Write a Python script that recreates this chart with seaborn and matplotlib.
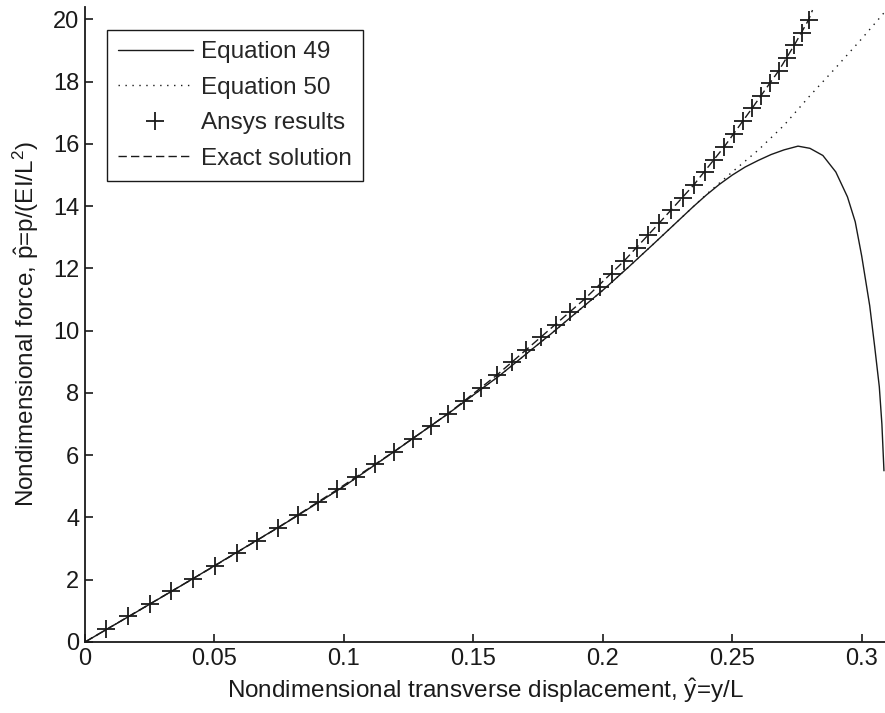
import matplotlib
matplotlib.use('Agg')
import matplotlib.pyplot as plt
import seaborn as sns
from matplotlib.lines import Line2D

# Ansys results (markers)
ansys_x = [0.0080, 0.0165, 0.0250, 0.0332, 0.0418, 0.0502, 0.0586, 0.0665, 0.0745, 0.0823,
           0.0899, 0.0975, 0.1048, 0.1122, 0.1194, 0.1266, 0.1336, 0.1403, 0.1465, 0.1530,
           0.1590, 0.1650, 0.1705, 0.1760, 0.1818, 0.1873, 0.1930, 0.1990, 0.2035, 0.2082,
           0.2131, 0.2173, 0.2218, 0.2263, 0.2310, 0.2352, 0.2393, 0.2428, 0.2469, 0.2505,
           0.2542, 0.2576, 0.2612, 0.2647, 0.2680, 0.2710, 0.2740, 0.2768, 0.2795]
ansys_y = [0.41, 0.82, 1.22, 1.63, 2.04, 2.45, 2.86, 3.26, 3.67, 4.08,
           4.49, 4.90, 5.30, 5.71, 6.12, 6.53, 6.94, 7.34, 7.75, 8.16,
           8.57, 8.98, 9.38, 9.79, 10.20, 10.61, 11.02, 11.42, 11.83, 12.24,
           12.65, 13.06, 13.46, 13.87, 14.28, 14.69, 15.10, 15.50, 15.91, 16.32,
           16.73, 17.14, 17.54, 17.95, 18.36, 18.77, 19.18, 19.58, 19.99]

# exact solution (dashed)
exact_x = [0.0, 0.0250, 0.0502, 0.0745, 0.0975, 0.1194, 0.1403, 0.1590, 0.1760, 0.1930,
           0.2082, 0.2218, 0.2352, 0.2469, 0.2576, 0.2680, 0.2740, 0.2795, 0.2810]
exact_y = [0.0, 1.22, 2.45, 3.67, 4.90, 6.12, 7.34, 8.57, 9.79, 11.02,
           12.24, 13.46, 14.69, 15.91, 17.14, 18.36, 19.18, 19.99, 20.30]

# Equation 49 (solid)
eq49_x = [0.0, 0.02, 0.04, 0.06, 0.08, 0.10, 0.12, 0.14, 0.16, 0.18, 0.20, 0.21, 0.22, 0.23,
          0.235, 0.24, 0.245, 0.25, 0.255, 0.26, 0.265, 0.27, 0.2754, 0.28, 0.285, 0.29,
          0.2945, 0.2975, 0.300, 0.3031, 0.3050, 0.3068, 0.3078, 0.3086]
eq49_y = [0.0, 0.97, 1.95, 2.95, 3.95, 5.00, 6.15, 7.32, 8.55, 9.90, 11.30, 12.05, 12.82, 13.60,
          13.99, 14.36, 14.70, 15.00, 15.26, 15.47, 15.66, 15.81, 15.93, 15.86, 15.63, 15.10,
          14.30, 13.50, 12.40, 10.80, 9.50, 8.20, 7.00, 5.50]

# Equation 50 (dotted)
eq50_x = [0.0, 0.02, 0.04, 0.06, 0.08, 0.10, 0.12, 0.14, 0.16, 0.18, 0.20, 0.21, 0.22, 0.23,
          0.24, 0.25, 0.26, 0.27, 0.28, 0.29, 0.30, 0.309]
eq50_y = [0.0, 0.97, 1.95, 2.95, 3.95, 5.00, 6.15, 7.32, 8.55, 9.90, 11.30, 12.05, 12.82, 13.60,
          14.38, 15.10, 15.80, 16.60, 17.55, 18.45, 19.38, 20.25]

sns.set_theme(style='white')
plt.rcParams['font.family'] = ['Liberation Sans', 'DejaVu Sans']
plt.rcParams['mathtext.fontset'] = 'custom'
plt.rcParams['mathtext.rm'] = 'Liberation Sans'
plt.rcParams['mathtext.default'] = 'regular'

fig = plt.figure(figsize=(8.85, 7.13), dpi=100)
ax = fig.add_axes([85 / 885, 71 / 713, 800 / 885, 635 / 713])

sns.lineplot(x=eq49_x, y=eq49_y, ax=ax, color='k', linewidth=1.0, sort=False)
sns.lineplot(x=eq50_x, y=eq50_y, ax=ax, color='k', linewidth=1.0, linestyle=(0, (1, 4)), sort=False)
sns.lineplot(x=exact_x, y=exact_y, ax=ax, color='k', linewidth=1.0, linestyle=(0, (6, 3)), sort=False)
sns.scatterplot(x=ansys_x, y=ansys_y, ax=ax, color='k', marker='+', s=170, linewidth=1.3)

ax.set_xlim(0, 0.309)
ax.set_ylim(0, 20.4)
ax.set_xticks([0, 0.05, 0.1, 0.15, 0.2, 0.25, 0.3])
ax.set_xticklabels(['0', '0.05', '0.1', '0.15', '0.2', '0.25', '0.3'])
ax.set_yticks(range(0, 21, 2))

for side in ['top', 'right']:
    ax.spines[side].set_visible(False)
for side in ['left', 'bottom']:
    ax.spines[side].set_color('k')
    ax.spines[side].set_linewidth(1.3)

ax.tick_params(direction='in', length=6, width=1.2, colors='k', labelsize=17,
               bottom=True, left=True, pad=4)

ax.set_xlabel(r'Nondimensional transverse displacement, $\hat{y}$=y/L', fontsize=17.5, color='k', labelpad=5)
ax.set_ylabel(r'Nondimensional force, $\hat{p}$=p/(EI/L$^2$)', fontsize=17.5, color='k', labelpad=9)

handles = [
    Line2D([], [], color='k', linewidth=1.0),
    Line2D([], [], color='k', linewidth=1.0, linestyle=(0, (1, 4))),
    Line2D([], [], color='k', marker='+', markersize=13, markeredgewidth=1.3, linestyle='None'),
    Line2D([], [], color='k', linewidth=1.0, linestyle=(0, (6, 3))),
]
labels = ['Equation 49', 'Equation 50', 'Ansys results', 'Exact solution']
leg = ax.legend(handles, labels, loc='upper left', bbox_to_anchor=(0.027, 0.963),
                fontsize=17.5, frameon=True, fancybox=False, framealpha=1,
                edgecolor='k', handlelength=3.1, handletextpad=0.33,
                labelspacing=0.55, borderpad=0.45, borderaxespad=0)
leg.get_frame().set_linewidth(1.0)

fig.savefig('out.png', dpi=100)
